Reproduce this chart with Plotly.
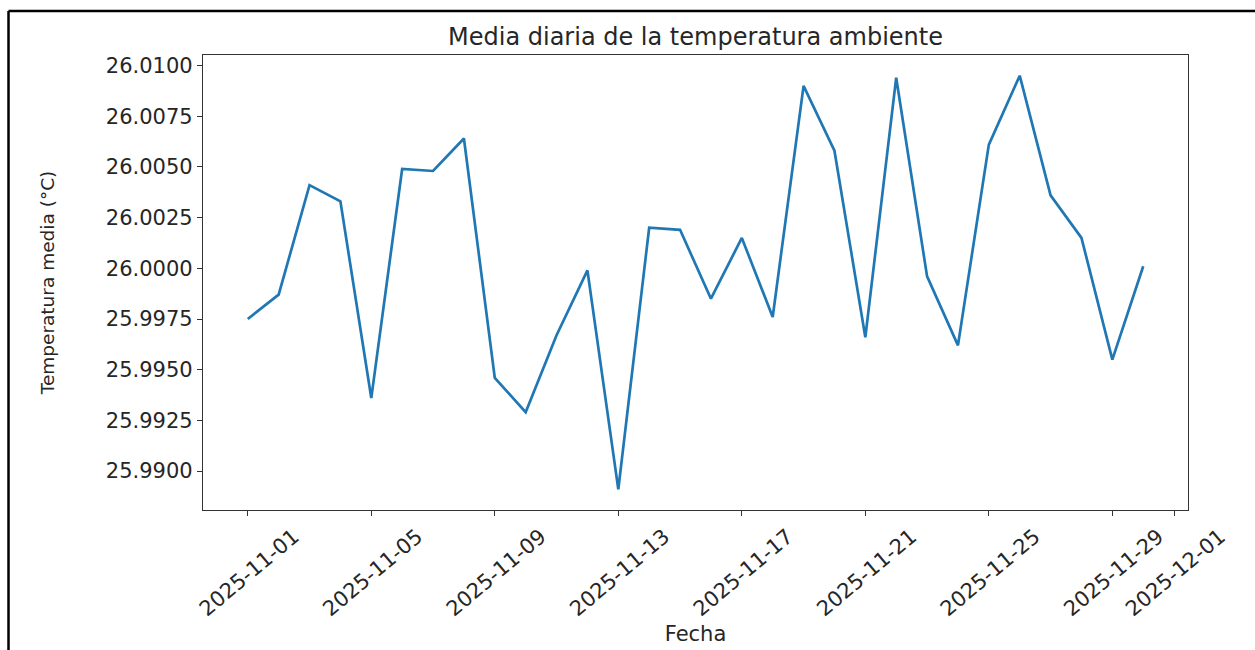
import pandas as pd
import plotly.graph_objects as go

# Daily mean ambient temperature, November 2025
fechas = pd.date_range("2025-11-01", "2025-11-30", freq="D")
temperatura_media = [
    25.9975, 25.9987, 26.0041, 26.0033, 25.9936, 26.0049, 26.0048, 26.0064,
    25.9946, 25.9929, 25.9967, 25.9999, 25.9891, 26.0020, 26.0019, 25.9985,
    26.0015, 25.9976, 26.0090, 26.0058, 25.9966, 26.0094, 25.9996, 25.9962,
    26.0061, 26.0095, 26.0036, 26.0015, 25.9955, 26.0001,
]

# Axis ticks
x_ticks = ["2025-11-01", "2025-11-05", "2025-11-09", "2025-11-13", "2025-11-17",
           "2025-11-21", "2025-11-25", "2025-11-29", "2025-12-01"]
y_ticks = [25.9900, 25.9925, 25.9950, 25.9975, 26.0000, 26.0025, 26.0050, 26.0075, 26.0100]

# 5 % padding around the data on both axes
span_x = fechas[-1] - fechas[0]
x_range = [(fechas[0] - span_x * 0.05).isoformat(), (fechas[-1] + span_x * 0.05).isoformat()]
y_lo, y_hi = min(temperatura_media), max(temperatura_media)
pad_y = (y_hi - y_lo) * 0.05
y_range = [y_lo - pad_y, y_hi + pad_y]

FONT = "DejaVu Sans"
TXT = "#262626"

fig = go.Figure(
    go.Scatter(
        x=fechas,
        y=temperatura_media,
        mode="lines",
        line=dict(color="#1f77b4", width=2.7),
        showlegend=False,
    )
)

fig.update_layout(
    width=1255,
    height=650,
    margin=dict(l=203, r=67, t=55, b=140, autoexpand=False),
    paper_bgcolor="white",
    plot_bgcolor="white",
    font=dict(family=FONT, color=TXT),
    title=dict(
        text="Media diaria de la temperatura ambiente",
        x=0.5, xref="paper", xanchor="center",
        y=1 - 37 / 650, yref="container", yanchor="middle",
        font=dict(size=24, color=TXT),
    ),
    shapes=[
        # outer frame around the figure
        dict(type="line", xref="paper", yref="paper",
             x0=(8.5 - 203) / 985, x1=(8.5 - 203) / 985, y0=-0.4, y1=(510 - 11) / 455,
             line=dict(color="black", width=2.5)),
        dict(type="line", xref="paper", yref="paper",
             x0=(8.5 - 203) / 985, x1=1.1, y0=(510 - 11) / 455, y1=(510 - 11) / 455,
             line=dict(color="black", width=2.5)),
    ],
)

fig.update_xaxes(
    type="date",
    range=x_range,
    tickvals=x_ticks,
    ticktext=x_ticks,
    tickangle=-40,
    ticklabelshift=46,
    ticks="outside",
    ticklen=5,
    tickwidth=1.2,
    tickcolor="#333",
    tickfont=dict(size=21, color=TXT),
    showline=True,
    linecolor="#333",
    linewidth=1.2,
    mirror=True,
    showgrid=False,
    zeroline=False,
    automargin=False,
    title=dict(text="Fecha", font=dict(size=21, color=TXT), standoff=6),
)

fig.update_yaxes(
    range=y_range,
    tickvals=y_ticks,
    tickformat=".4f",
    ticks="outside",
    ticklen=5,
    tickwidth=1.2,
    tickcolor="#333",
    tickfont=dict(size=21, color=TXT),
    showline=True,
    linecolor="#333",
    linewidth=1.2,
    mirror=True,
    showgrid=False,
    zeroline=False,
    automargin=False,
    title=dict(text="Temperatura media (°C)", font=dict(size=18.5, color=TXT), standoff=46),
)

fig.write_html("out.html")
